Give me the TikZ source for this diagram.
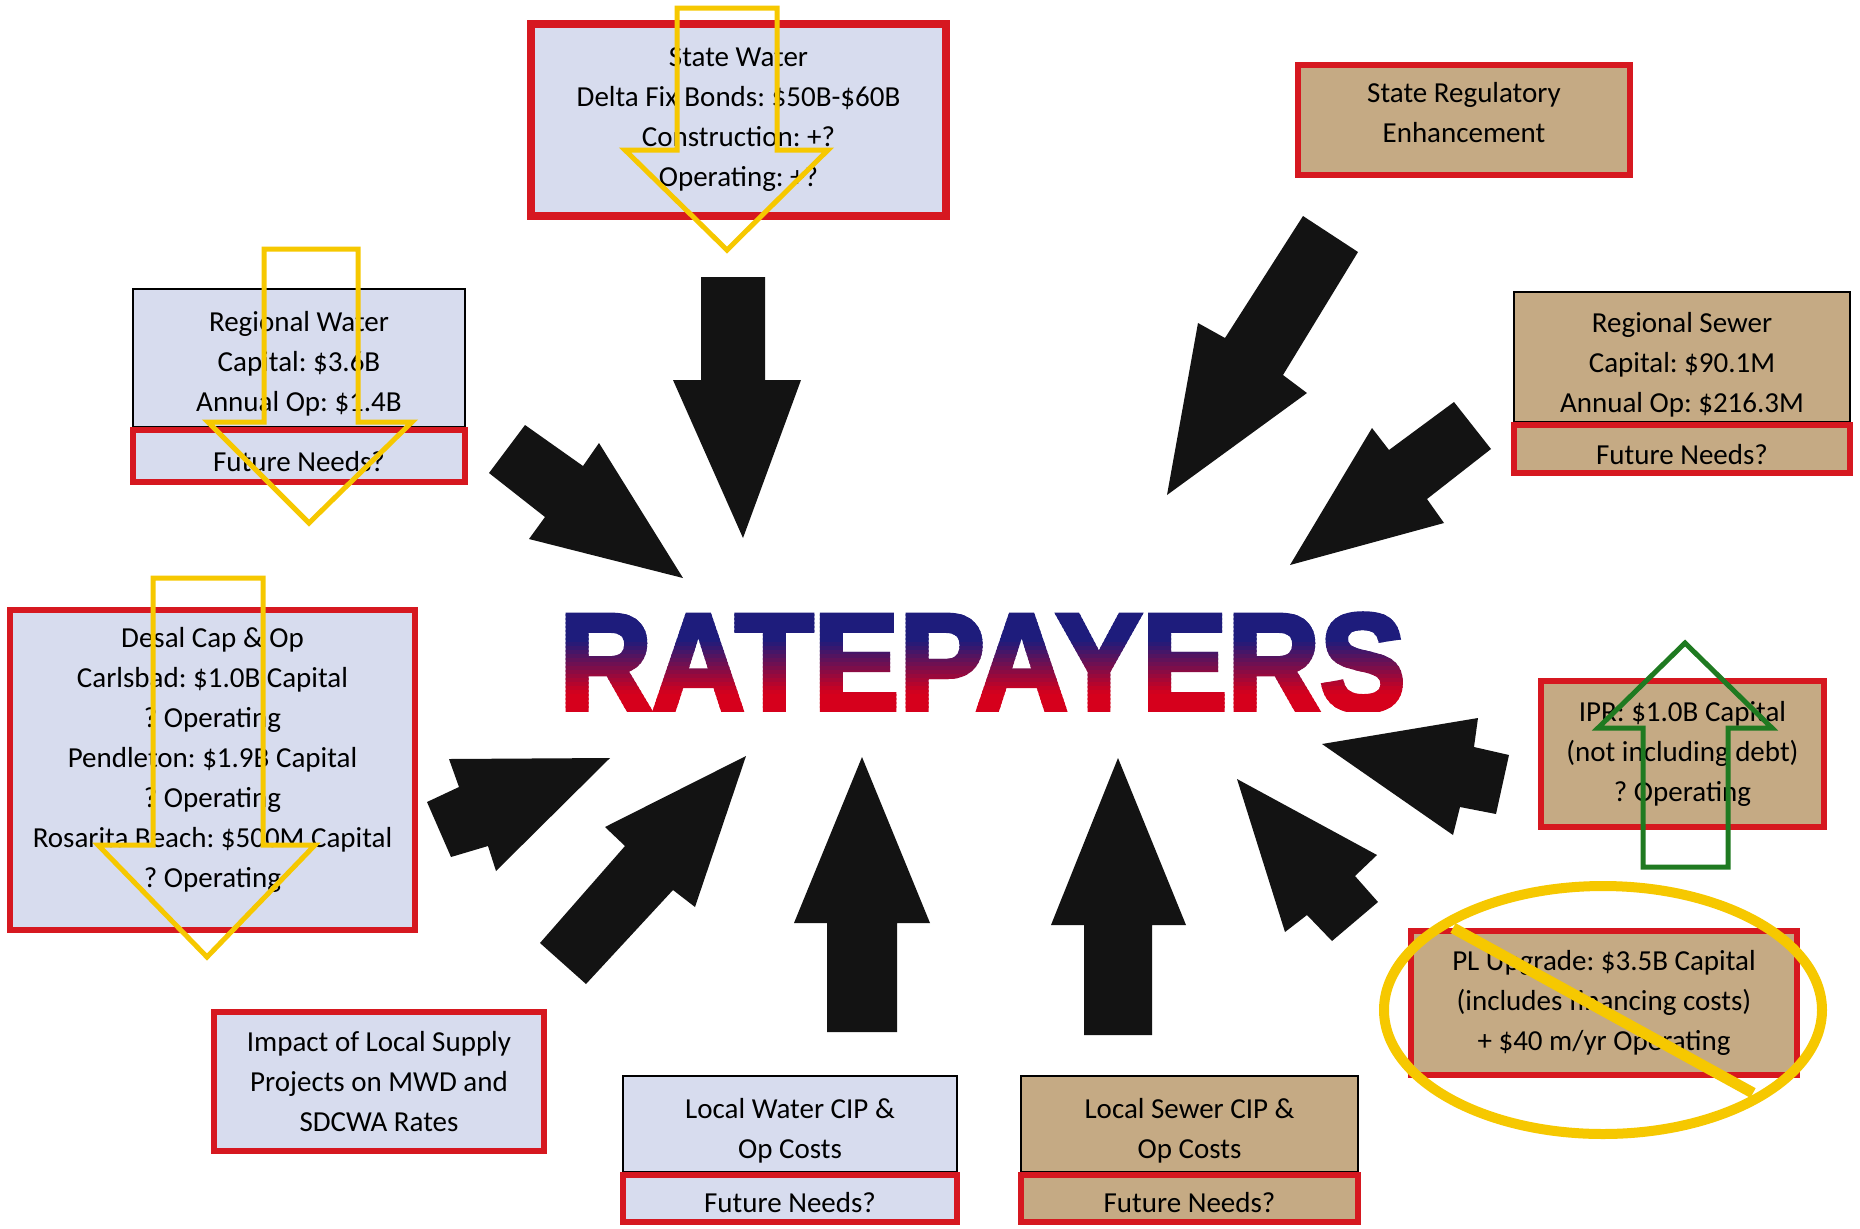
\documentclass[tikz,border=0pt]{standalone}
\usepackage{fontspec}
\setmainfont{Carlito}
\newfontfamily\rpfont[FakeBold=3.5]{Liberation Sans Bold}
\usetikzlibrary{positioning}
\frenchspacing

\definecolor{boxblue}{HTML}{D7DCEE}
\definecolor{boxtan}{HTML}{C5AA84}
\definecolor{boxred}{HTML}{D61820}
\definecolor{hiyellow}{HTML}{F6C800}
\definecolor{higreen}{HTML}{1F7A21}
\definecolor{rpblue}{HTML}{1E1C7C}
\definecolor{rpred}{HTML}{D6001C}
\definecolor{arrowblack}{HTML}{131313}

\begin{document}
\begin{tikzpicture}[x = 0.5pt, y = -0.5pt, % one unit is one pixel, y downwards
                line join = miter,
                font = \fontsize{14.5}{20}\selectfont % box text
            ]

            \tikzstyle{box}=[rectangle, align = center, inner sep = 0pt,
            outer sep = 0pt]
            \tikzstyle{bluebox}=[box, fill = boxblue, draw = boxred, line width = 3pt]
            \tikzstyle{tanbox}=[box, fill = boxtan, draw = boxred, line width = 3pt]
            \tikzstyle{blueplain}=[box, fill = boxblue, draw = black, line width = 1pt]
            \tikzstyle{tanplain}=[box, fill = boxtan, draw = black, line width = 1pt]
            \tikzstyle{bigarrow}=[fill = arrowblack]
            \tikzstyle{hiarrow}=[draw = hiyellow, line width = 2.5pt]

            \fill[white] (0,0) rectangle (1860,1228);
            \useasboundingbox (0,0) rectangle (1860,1228);

            % black arrows towards the ratepayers
            \fill[bigarrow] (701,277) -- (765,277) -- (765,380) -- (801,380) --
            (743,538) -- (673,380) -- (701,380) -- cycle;
            \fill[bigarrow] (489,473) -- (525,425) -- (583,466) -- (599,443) --
            (683,578) -- (529,539) -- (545,517) -- cycle;
            \fill[bigarrow] (449,759) -- (610,758) -- (496,871) -- (488,846) --
            (451,857) -- (427,802) -- (459,787) -- cycle;
            \fill[bigarrow] (746,756) -- (695,907) -- (673,890) -- (586,984) --
            (540,943) -- (625,846) -- (605,827) -- cycle;
            \fill[bigarrow] (862,757) -- (930,923) -- (897,923) -- (897,1032) --
            (827,1032) -- (827,923) -- (794,923) -- cycle;
            \fill[bigarrow] (1118,758) -- (1186,925) -- (1152,925) -- (1152,1035) --
            (1084,1035) -- (1084,925) -- (1051,925) -- cycle;
            \fill[bigarrow] (1237,779) -- (1377,855) -- (1355,876) -- (1378,902) --
            (1332,941) -- (1307,915) -- (1285,932) -- cycle;
            \fill[bigarrow] (1322,744) -- (1478,718) -- (1474,747) -- (1509,755) --
            (1496,814) -- (1460,807) -- (1453,835) -- cycle;
            \fill[bigarrow] (1167,495) -- (1198,323) -- (1225,338) -- (1303,216) --
            (1358,252) -- (1283,375) -- (1307,393) -- cycle;
            \fill[bigarrow] (1290,565) -- (1372,428) -- (1389,450) -- (1454,402) --
            (1491,449) -- (1427,499) -- (1444,523) -- cycle;

            % water boxes
            \node[bluebox, line width = 4pt, minimum width = 207.5pt,
            minimum height = 96pt] (statewater) at (738.5,120)
            {State Water\\Delta Fix Bonds: \$50B-\$60B\\Construction: +?\\Operating: +?};
            \node[blueplain, minimum width = 166pt, minimum height = 69pt]
            (regwater) at (299,358) {\rule{0pt}{15.5pt}Regional Water\\Capital:
            \$3.6B\\Annual Op: \$1.4B};
            \node[bluebox, minimum width = 166pt, minimum height = 26pt,
            below = 1.5pt of regwater] (regwaterneeds) {\rule{0pt}{15.5pt}Future Needs?};
            \node[bluebox, minimum width = 202.5pt, minimum height = 160pt]
            (desal) at (212.5,770) {Desal Cap \& Op\\Carlsbad: \$1.0B Capital\\?
            Operating\\Pendleton: \$1.9B Capital\\? Operating\\Rosarita Beach:
            \$500M Capital\\? Operating\rule[-12.5pt]{0pt}{1pt}};
            \node[bluebox, minimum width = 165pt, minimum height = 69.5pt]
            (impact) at (379,1081.5) {Impact of Local Supply\\Projects on MWD
            and\\SDCWA Rates};
            \node[blueplain, minimum width = 167pt, minimum height = 48pt]
            (localwater) at (790,1124) {\rule{0pt}{16.5pt}Local Water CIP \&\\Op Costs};
            \node[bluebox, minimum width = 167pt, minimum height = 23.5pt,
            below = 1.5pt of localwater] (localwaterneeds) {\rule{0pt}{14.5pt}Future Needs?};

            % sewer boxes
            \node[tanplain, minimum width = 168.5pt, minimum height = 48pt]
            (localsewer) at (1189.5,1124) {\rule{0pt}{16.5pt}Local Sewer CIP \&\\Op Costs};
            \node[tanbox, minimum width = 168.5pt, minimum height = 23.5pt,
            below = 1.5pt of localsewer] (localsewerneeds) {\rule{0pt}{14.5pt}Future Needs?};
            \node[tanbox, minimum width = 166pt, minimum height = 55pt]
            (stateregulatory) at (1464,120) {State Regulatory\\Enhancement\rule[-8pt]{0pt}{1pt}};
            \node[tanplain, minimum width = 168pt, minimum height = 65pt]
            (regsewer) at (1682,357) {\rule{0pt}{17.5pt}Regional
            Sewer\\Capital: \$90.1M\\Annual Op: \$216.3M};
            \node[tanbox, minimum width = 168pt, minimum height = 24pt,
            below = 1.5pt of regsewer] (regsewerneeds) {\rule{0pt}{15.5pt}Future Needs?};
            \node[tanbox, minimum width = 141.5pt, minimum height = 73pt]
            (ipr) at (1682.5,754) {IPR: \$1.0B Capital\\(not including
            debt)\\? Operating};
            \node[tanbox, minimum width = 193pt, minimum height = 72pt]
            (plupgrade) at (1604,1003) {PL Upgrade: \$3.5B Capital\\(includes
            financing costs)\\+ \$40 m/yr Operating};

            % title, blue at the top and red at the bottom
            \foreach \i in {0,...,24} {
                \pgfmathsetmacro\pct{min(100,max(0,(\i/24-0.3)/0.55*100))}
                \begin{scope}
                    \clip (500,{611+4*\i-0.5}) rectangle (1460,{611+4*\i+4.5});
                    \node[inner sep = 0pt, xscale = 0.93, text = rpred!\pct!rpblue,
                    font = \rpfont\fontsize{69}{69}\selectfont]
                    (ratepayers) at (982.5,662.5) {RATEPAYERS};
                \end{scope}
            }

            % outlined arrows over the boxes
            \draw[hiarrow] (677,8) -- (777,8) -- (777,150) -- (828,150) --
            (727,250) -- (625,150) -- (677,150) -- cycle;
            \draw[hiarrow] (264,249) -- (358,249) -- (358,422) -- (412,422) --
            (309,523) -- (208,422) -- (264,422) -- cycle;
            \draw[hiarrow] (153,578) -- (263,578) -- (263,845) -- (315,845) --
            (207,957) -- (98,845) -- (153,845) -- cycle;
            \draw[hiarrow, draw = higreen] (1643,867) -- (1728,867) -- (1728,728) --
            (1772,728) -- (1685,643) -- (1598,728) -- (1643,728) -- cycle;

            % struck out
            \draw[hiyellow, line width = 5pt] (1603,1010) ellipse [x radius = 219,
            y radius = 124];
            \draw[hiyellow, line width = 5.5pt] (1453,928) -- (1753,1093);

        \end{tikzpicture}
\end{document}
